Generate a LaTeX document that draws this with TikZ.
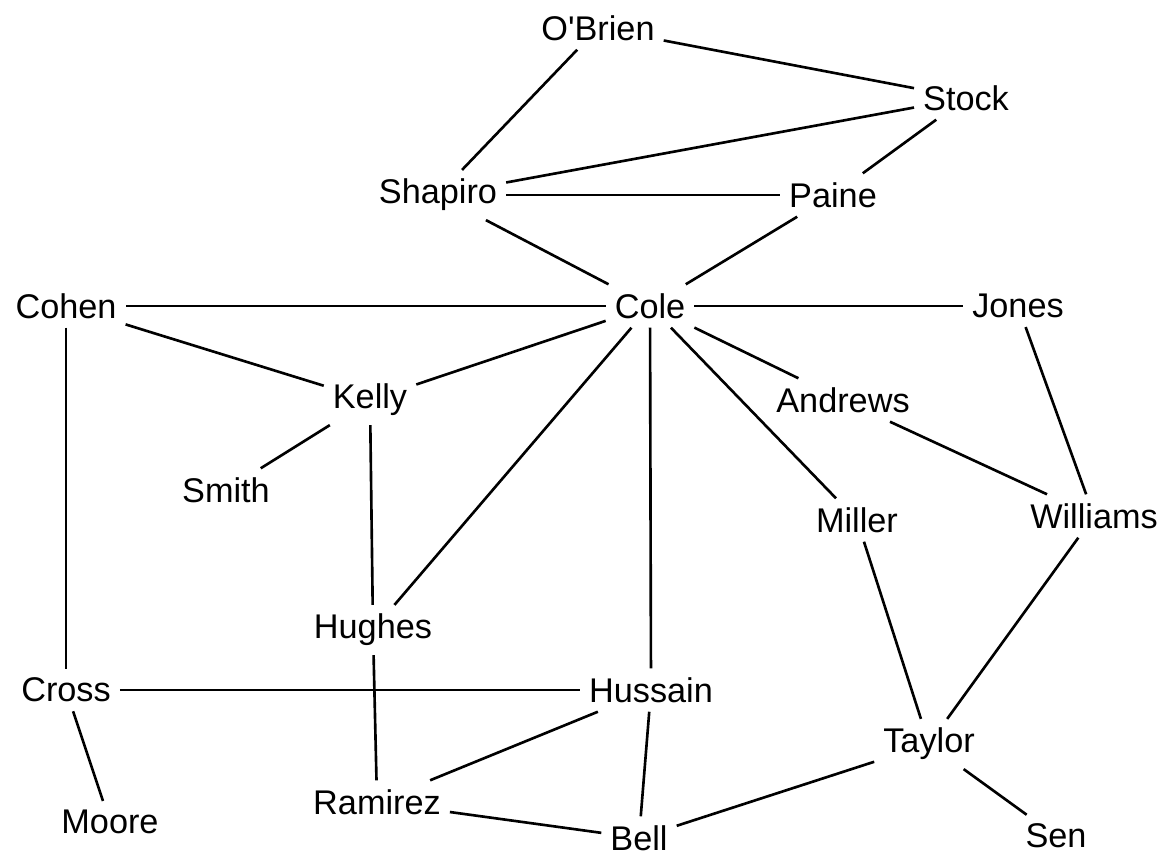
\documentclass[tikz,border=0pt]{standalone}
\usepackage{fontspec}
\setmainfont{Liberation Sans}
\usepackage{tikz}
\usetikzlibrary{positioning}

\begin{document}
\begin{tikzpicture}[
    x=0.02cm, y=-0.02cm,
    person/.style={inner sep=5pt, font=\fontsize{19.5}{22}\selectfont},
    link/.style={line width=1.5pt, black}
]
\useasboundingbox (0,0) rectangle (1169,856);

% people
\node[person] (obrien)   at (598,28)   {O\textquotesingle Brien};
\node[person] (stock)    at (966,98)   {Stock};
\node[person] (shapiro)  at (438,195)  {Shapiro};
\node[person] (paine)    at (833,195)  {Paine};
\node[person] (cohen)    at (66,306)   {Cohen};
\node[person] (cole)     at (650,306)  {Cole};
\node[person] (jones)    at (1018,306) {Jones};
\node[person] (kelly)    at (370,400)  {Kelly};
\node[person] (andrews)  at (843,400)  {Andrews};
\node[person] (smith)    at (226,490)  {Smith};
\node[person] (miller)   at (857,520)  {Miller};
\node[person] (williams) at (1094,516) {Williams};
\node[person] (hughes)   at (373,630)  {Hughes};
\node[person] (cross)    at (66,690)   {Cross};
\node[person] (hussain)  at (651,690)  {Hussain};
\node[person] (taylor)   at (929,744)  {Taylor};
\node[person] (ramirez)  at (377,802)  {Ramirez};
\node[person] (bell)     at (639,838)  {Bell};
\node[person] (moore)    at (110,822)  {Moore};
\node[person] (sen)      at (1056,836) {Sen};

% ties at the top
\draw[link] (obrien) -- (stock);
\draw[link] (obrien) -- (shapiro);
\draw[link] (stock) -- (shapiro);
\draw[link] (stock) -- (paine);
\draw[link] (shapiro) -- (paine);
\draw[link] (shapiro) -- (cole);
\draw[link] (paine) -- (cole);

% ties from Cole
\draw[link] (cole) -- (cohen);
\draw[link] (cole) -- (jones);
\draw[link] (cole) -- (kelly);
\draw[link] (cole) -- (andrews);
\draw[link] (cole) -- (hughes);
\draw[link] (cole) -- (hussain);
\draw[link] (cole) -- (miller);

% left side
\draw[link] (cohen) -- (kelly);
\draw[link] (cohen) -- (cross);
\draw[link] (kelly) -- (smith);
\draw[link] (kelly) -- (hughes);
\draw[link] (hughes) -- (ramirez);
\draw[link] (cross) -- (hussain);
\draw[link] (cross) -- (moore);

% right side
\draw[link] (jones) -- (williams);
\draw[link] (andrews) -- (williams);
\draw[link] (williams) -- (taylor);
\draw[link] (miller) -- (taylor);
\draw[link] (taylor) -- (sen);

% bottom
\draw[link] (hussain) -- (ramirez);
\draw[link] (hussain) -- (bell);
\draw[link] (ramirez) -- (bell);
\draw[link] (taylor) -- (bell);
\end{tikzpicture}
\end{document}
